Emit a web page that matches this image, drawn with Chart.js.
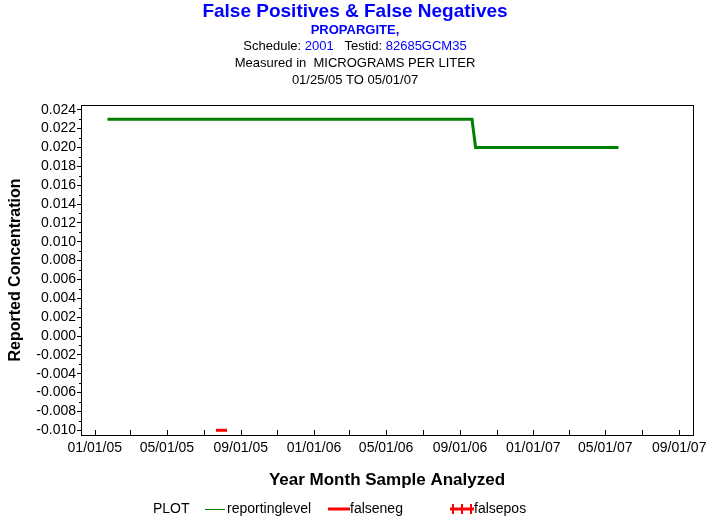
<!DOCTYPE html>
<html>
<head>
<meta charset="utf-8">
<script src="https://cdn.jsdelivr.net/npm/chart.js@4.4.1/dist/chart.umd.min.js"></script>
<style>
  html, body { margin: 0; padding: 0; background: #fff; }
  #wrap { width: 713px; height: 523px; }
</style>
</head>
<body>
<div id="wrap"><canvas id="chart"></canvas></div>
<script>
// data
const reportingDates  = ['2005-01-22', '2006-09-21', '2006-09-27', '2007-05-23'];
const reportingLevel  = [0.023, 0.023, 0.020, 0.020];
const falseNegDates   = ['2005-07-31'];
const falseNegValues  = [-0.010];
const falsePosDates   = [];
const falsePosValues  = [];

const xTickLabels  = ['01/01/05', '05/01/05', '09/01/05', '01/01/06', '05/01/06',
                      '09/01/06', '01/01/07', '05/01/07', '09/01/07'];
const xMinorLabels = ['03/01/05', '07/01/05', '11/01/05', '03/01/06', '07/01/06',
                      '11/01/06', '03/01/07', '07/01/07'];
const yTicks = [-0.010, -0.008, -0.006, -0.004, -0.002, 0.000, 0.002, 0.004, 0.006,
                0.008, 0.010, 0.012, 0.014, 0.016, 0.018, 0.020, 0.022, 0.024];

const FONT = 'Arial, "Liberation Sans", sans-serif';

function isoDay(s) {            // '2005-01-22' -> days since epoch
  const p = s.split('-').map(Number);
  return Date.UTC(p[0], p[1] - 1, p[2]) / 86400000;
}
function usDay(s) {             // '01/01/05' -> days since epoch
  const p = s.split('/').map(Number);
  return Date.UTC(2000 + p[2], p[0] - 1, p[1]) / 86400000;
}
function pts(dates, vals) {
  return dates.map((d, i) => ({ x: isoDay(d), y: vals[i] }));
}

// header, frame, inward x ticks, axis titles, legend
const decor = {
  id: 'decor',
  afterDraw(chart) {
    const c = chart.ctx;
    const a = chart.chartArea;
    const xs = chart.scales.x, ys = chart.scales.y;
    c.save();
    c.textAlign = 'center';
    c.textBaseline = 'middle';

    // header
    c.fillStyle = '#0000ff';
    c.font = 'bold 19px ' + FONT;
    c.fillText('False Positives & False Negatives', 355, 12);
    c.font = 'bold 13px ' + FONT;
    c.fillText('PROPARGITE,', 355, 30);

    c.font = '13px ' + FONT;
    const parts = [['Schedule: ', '#000'], ['2001', '#0000ff'], ['   Testid: ', '#000'], ['82685GCM35', '#0000ff']];
    let w = parts.reduce((s, p) => s + c.measureText(p[0]).width, 0);
    let x = 355 - w / 2;
    c.textAlign = 'left';
    parts.forEach(p => { c.fillStyle = p[1]; c.fillText(p[0], x, 46); x += c.measureText(p[0]).width; });
    c.textAlign = 'center';
    c.fillStyle = '#000';
    c.fillText('Measured in  MICROGRAMS PER LITER', 355, 63);
    c.fillText('01/25/05 TO 05/01/07', 355, 80);

    // frame
    c.strokeStyle = '#000';
    c.lineWidth = 1;
    c.strokeRect(Math.round(a.left) + 0.5, Math.round(a.top) + 0.5,
                 Math.round(a.right - a.left), Math.round(a.bottom - a.top));

    // x ticks pointing inward
    c.beginPath();
    xTickLabels.concat(xMinorLabels).forEach(l => {
      const px = Math.round(xs.getPixelForValue(usDay(l))) + 0.5;
      c.moveTo(px, a.bottom);
      c.lineTo(px, a.bottom - 5);
    });
    // y minor ticks
    for (let i = 0; i < yTicks.length - 1; i++) {
      const py = Math.round(ys.getPixelForValue((yTicks[i] + yTicks[i + 1]) / 2)) + 0.5;
      c.moveTo(a.left, py);
      c.lineTo(a.left - 2, py);
    }
    c.stroke();

    // axis titles
    c.font = 'bold 17px ' + FONT;
    c.fillText('Year Month Sample Analyzed', (a.left + a.right) / 2, 480);
    c.save();
    c.translate(16, (a.top + a.bottom) / 2);
    c.rotate(-Math.PI / 2);
    c.font = 'bold 16px ' + FONT;
    c.fillText('Reported Concentration', 0, 0);
    c.restore();

    // legend
    const ly = 509;
    c.font = '14px ' + FONT;
    c.textAlign = 'left';
    c.fillStyle = '#000';
    c.fillText('PLOT', 153, ly);
    c.fillText('reportinglevel', 227, ly);
    c.fillText('falseneg', 350, ly);
    c.fillText('falsepos', 474, ly);
    c.lineWidth = 1;
    c.strokeStyle = '#008000';
    c.beginPath(); c.moveTo(205, ly + 0.5); c.lineTo(225, ly + 0.5); c.stroke();
    c.lineWidth = 3;
    c.strokeStyle = '#ff0000';
    c.beginPath(); c.moveTo(328, ly); c.lineTo(350, ly); c.stroke();
    c.beginPath(); c.moveTo(450, ly); c.lineTo(474, ly); c.stroke();
    c.lineWidth = 2;
    [453, 462, 471].forEach(px => {
      c.beginPath(); c.moveTo(px, ly - 5); c.lineTo(px, ly + 5); c.stroke();
    });
    c.restore();
  }
};

new Chart(document.getElementById('chart'), {
  type: 'line',
  data: {
    datasets: [
      {
        label: 'reportinglevel',
        data: pts(reportingDates, reportingLevel),
        borderColor: '#008000',
        borderWidth: 3,
        pointRadius: 0,
        tension: 0
      },
      {
        label: 'falseneg',
        data: pts(falseNegDates, falseNegValues),
        borderColor: '#ff0000',
        backgroundColor: '#ff0000',
        showLine: false,
        pointStyle: 'line',
        pointRadius: 5.5,
        pointBorderWidth: 3
      },
      {
        label: 'falsepos',
        data: pts(falsePosDates, falsePosValues),
        borderColor: '#ff0000',
        showLine: false,
        pointStyle: 'cross',
        pointRadius: 4
      }
    ]
  },
  options: {
    responsive: true,
    maintainAspectRatio: false,
    animation: false,
    devicePixelRatio: 1,
    layout: { padding: { top: 105, right: 20, left: 0, bottom: 0 } },
    plugins: { legend: { display: false }, tooltip: { enabled: false } },
    scales: {
      x: {
        type: 'linear',
        min: isoDay('2004-12-09'),
        max: isoDay('2007-09-24'),
        afterBuildTicks: s => { s.ticks = xTickLabels.map(l => ({ value: usDay(l) })); },
        afterFit: s => { s.height = 88; },
        grid: { display: false, drawTicks: false },
        border: { display: false },
        ticks: {
          autoSkip: false,
          maxRotation: 0,
          padding: 5,
          color: '#000',
          font: { family: FONT, size: 14 },
          callback: (v, i) => xTickLabels[i]
        }
      },
      y: {
        min: -0.0105,
        max: 0.0245,
        afterBuildTicks: s => { s.ticks = yTicks.map(v => ({ value: v })); },
        afterFit: s => { s.width = 81; },
        grid: { drawOnChartArea: false, color: '#000', tickLength: 4 },
        border: { display: false },
        ticks: {
          autoSkip: false,
          padding: 1,
          color: '#000',
          font: { family: FONT, size: 14 },
          callback: v => v.toFixed(3)
        }
      }
    }
  },
  plugins: [decor]
});
</script>
</body>
</html>
